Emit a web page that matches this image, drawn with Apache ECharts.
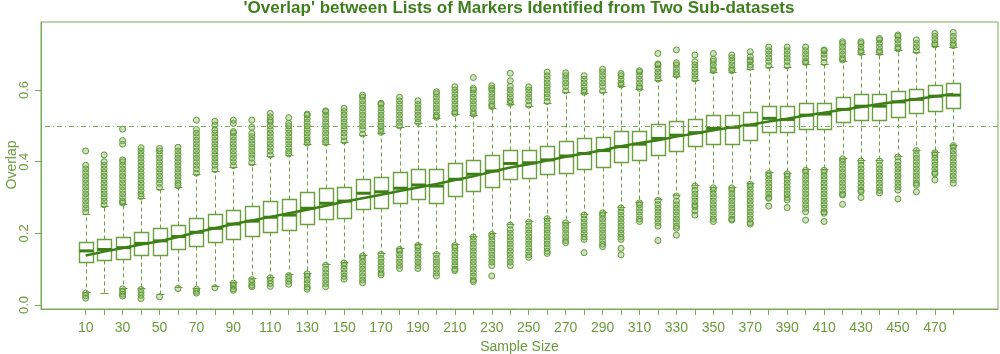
<!DOCTYPE html>
<html>
<head>
<meta charset="utf-8">
<script src="https://cdn.jsdelivr.net/npm/echarts@6/dist/echarts.min.js"></script>
<style>html,body{margin:0;padding:0;background:#fff}#c{width:1000px;height:354px}</style>
</head>
<body>
<div id="c"></div>
<script>
const sampleSizes = [10,20,30,40,50,60,70,80,90,100,110,120,130,140,150,160,170,180,190,200,210,220,230,240,250,260,270,280,290,300,310,320,330,340,350,360,370,380,390,400,410,420,430,440,450,460,470,480];
const xTickLabels = [10,30,50,70,90,110,130,150,170,190,210,230,250,270,290,310,330,350,370,390,410,430,450,470];
const yTickLabels = [0.0,0.2,0.4,0.6];

const q1  = [.120,.126,.129,.140,.140,.155,.165,.175,.184,.193,.205,.209,.225,.239,.244,.267,.270,.286,.295,.286,.305,.319,.330,.351,.355,.365,.369,.380,.384,.400,.405,.419,.430,.444,.449,.449,.460,.482,.482,.491,.491,.512,.516,.516,.526,.535,.542,.551];
const med = [.151,.155,.160,.172,.179,.191,.203,.214,.226,.234,.245,.251,.270,.284,.290,.312,.316,.326,.335,.332,.351,.365,.374,.395,.397,.405,.416,.423,.431,.442,.449,.465,.474,.481,.493,.496,.502,.521,.518,.530,.533,.546,.555,.555,.567,.574,.583,.586];
const q3  = [.175,.185,.189,.205,.214,.224,.244,.254,.265,.276,.291,.296,.316,.326,.330,.351,.356,.370,.380,.380,.395,.405,.419,.434,.434,.444,.459,.465,.470,.486,.486,.505,.514,.519,.529,.529,.539,.555,.555,.565,.565,.580,.589,.589,.598,.603,.614,.620];
const whiskerLow  = [.037,.034,.048,.047,.030,.051,.048,.053,.065,.074,.079,.086,.090,.114,.120,.140,.144,.158,.169,.144,.169,.193,.200,.226,.234,.244,.232,.254,.260,.274,.288,.295,.307,.335,.330,.330,.340,.370,.369,.379,.379,.411,.405,.405,.416,.434,.428,.448];
const whiskerHigh = [.254,.276,.281,.300,.325,.330,.365,.375,.386,.394,.416,.419,.449,.449,.455,.474,.479,.498,.507,.521,.532,.530,.551,.561,.555,.565,.595,.591,.595,.611,.602,.628,.639,.628,.651,.651,.660,.665,.665,.674,.674,.681,.702,.702,.712,.707,.723,.721];
const meanOverlap = [.138,.149,.159,.169,.178,.190,.203,.214,.226,.236,.246,.256,.266,.277,.288,.298,.308,.318,.328,.338,.349,.359,.372,.384,.393,.403,.414,.423,.432,.443,.452,.460,.470,.479,.488,.496,.503,.512,.520,.529,.537,.545,.553,.561,.568,.575,.582,.589];

const highOutliers = [
 [.26,.27,.28,.29,.30,.31,.32,.33,.34,.35,.36,.37,.38,.39,.43],
 [.28,.29,.30,.31,.32,.33,.34,.35,.36,.37,.38,.39,.40,.419],
 [.285,.29,.30,.31,.32,.33,.34,.35,.36,.37,.38,.39,.40,.405,.449,.459,.491],
 [.303,.31,.32,.33,.34,.35,.36,.37,.38,.39,.40,.41,.42,.43,.439],
 [.328,.34,.35,.36,.37,.38,.39,.40,.41,.42,.43,.437],
 [.333,.34,.35,.36,.37,.38,.39,.40,.41,.42,.43,.44],
 [.368,.38,.39,.40,.41,.42,.43,.44,.45,.46,.47,.48,.49,.516],
 [.378,.39,.40,.41,.42,.43,.44,.45,.46,.47,.48,.488,.502,.513],
 [.389,.40,.41,.42,.43,.44,.45,.46,.47,.48,.484,.507,.516],
 [.397,.41,.42,.43,.44,.45,.46,.47,.479,.496,.516],
 [.419,.43,.44,.45,.46,.47,.48,.49,.50,.51,.516,.525,.535],
 [.422,.43,.44,.45,.46,.47,.48,.49,.50,.507,.523],
 [.452,.46,.47,.48,.49,.50,.51,.52,.53,.533],
 [.453,.46,.47,.48,.49,.50,.51,.52,.53,.54,.542],
 [.458,.47,.48,.49,.50,.51,.52,.53,.54,.549],
 [.477,.49,.50,.51,.52,.53,.54,.55,.56,.57,.58,.586],
 [.482,.49,.50,.51,.52,.53,.54,.55,.56,.563],
 [.50,.51,.52,.53,.54,.55,.56,.57,.58],
 [.51,.52,.53,.54,.55,.56,.57],
 [.524,.53,.54,.55,.56,.57,.58,.59,.595],
 [.535,.54,.55,.56,.57,.58,.59,.60,.609],
 [.533,.54,.55,.56,.57,.58,.59,.60,.605,.635],
 [.554,.56,.57,.58,.59,.60,.605,.612],
 [.563,.57,.58,.59,.60,.61,.626,.647],
 [.558,.57,.58,.59,.60,.609],
 [.568,.58,.59,.60,.61,.62,.63,.64,.65],
 [.598,.61,.62,.63,.64,.648],
 [.594,.60,.61,.62,.63,.64],
 [.598,.61,.62,.63,.64,.65,.658],
 [.614,.62,.63,.64,.646],
 [.605,.61,.62,.63,.64,.65,.654],
 [.631,.64,.65,.66,.67,.673,.702],
 [.642,.65,.66,.67,.676,.712],
 [.631,.64,.65,.66,.67,.679,.698],
 [.654,.66,.67,.68,.686,.702],
 [.654,.66,.67,.68,.69,.698],
 [.664,.67,.68,.684,.693,.707],
 [.668,.68,.69,.70,.71,.72],
 [.668,.68,.69,.70,.71,.72],
 [.677,.68,.69,.70,.71,.72],
 [.677,.69,.70,.71,.712],
 [.684,.69,.70,.71,.72,.73,.735],
 [.705,.71,.72,.73,.735],
 [.705,.71,.72,.73,.74,.744],
 [.715,.72,.73,.74,.75,.754],
 [.71,.72,.73,.74],
 [.726,.73,.74,.75,.758],
 [.724,.73,.74,.75,.761]
];
const lowOutliers = [
 [.033,.026,.019],
 [],
 [.045,.037,.03,.025],
 [.043,.035,.027,.018],
 [.023],
 [.046],
 [.044,.038,.033],
 [.048],
 [.061,.053,.045,.041],
 [.071,.063,.055,.051],
 [.076,.068,.06,.052],
 [.082,.074,.066,.058],
 [.087,.08,.07,.06,.05,.044],
 [.111,.10,.09,.08,.07,.06,.051],
 [.117,.11,.10,.09,.08,.072],
 [.137,.13,.12,.11,.10,.09,.08,.07,.062],
 [.141,.13,.12,.11,.10,.09,.084],
 [.155,.15,.14,.13,.12,.11,.102],
 [.166,.16,.15,.14,.13,.12,.11,.102],
 [.141,.13,.12,.11,.10,.09,.081],
 [.166,.16,.15,.14,.13,.12,.11,.10,.096],
 [.19,.18,.17,.16,.15,.14,.13,.12,.11,.10,.09,.08,.07,.065],
 [.197,.19,.18,.17,.16,.15,.14,.13,.12,.11,.081],
 [.223,.21,.20,.19,.18,.17,.16,.15,.14,.13,.12,.11],
 [.231,.22,.21,.20,.19,.18,.17,.16,.15,.14,.133],
 [.241,.23,.22,.21,.20,.19,.18,.17,.16,.15,.144],
 [.229,.22,.21,.20,.19,.18,.174],
 [.251,.24,.23,.22,.21,.20,.19,.183,.146],
 [.257,.25,.24,.23,.22,.21,.20,.19,.18,.17,.163],
 [.271,.26,.25,.24,.23,.22,.21,.20,.19,.183,.158,.14],
 [.285,.28,.27,.26,.25,.24,.233],
 [.292,.28,.27,.26,.25,.24,.23,.22,.18],
 [.304,.29,.28,.27,.26,.25,.24,.23,.22,.214,.195],
 [.332,.32,.31,.30,.29,.28,.274,.263,.251],
 [.327,.32,.31,.30,.29,.28,.27,.26,.25,.24,.233],
 [.327,.32,.31,.30,.29,.28,.27,.26,.25,.24,.237],
 [.337,.33,.32,.31,.30,.29,.28,.27,.26,.25,.24,.23,.226],
 [.367,.36,.35,.34,.33,.32,.31,.30,.298,.276],
 [.366,.36,.35,.34,.33,.32,.31,.30,.293,.272],
 [.376,.37,.36,.35,.34,.33,.32,.31,.30,.29,.28,.27,.26,.237],
 [.376,.37,.36,.35,.34,.33,.32,.31,.30,.29,.28,.27,.26,.256,.233],
 [.408,.40,.39,.38,.37,.36,.35,.34,.33,.32,.31,.307,.281],
 [.402,.39,.38,.37,.36,.35,.34,.33,.32,.316,.30],
 [.402,.39,.38,.37,.36,.35,.34,.33,.32,.313],
 [.413,.40,.39,.38,.37,.36,.35,.34,.33,.321,.296],
 [.431,.42,.41,.40,.39,.38,.37,.36,.35,.34,.335,.316],
 [.425,.42,.41,.40,.39,.38,.37,.366,.349],
 [.445,.44,.43,.42,.41,.40,.39,.38,.37,.36,.35,.34]
];

const BOX = '#6ba03f';
const DARK = '#3d7f16';
const AXIS = '#79aa55';
const TEXT = '#6a9b3c';
const FONT = '"Liberation Sans", Arial, sans-serif';

const boxData = sampleSizes.map((s, i) => [s, whiskerLow[i], q1[i], med[i], q3[i], whiskerHigh[i]]);
const outlierData = [];
sampleSizes.forEach((s, i) => {
  highOutliers[i].forEach(v => outlierData.push([s, v]));
  lowOutliers[i].forEach(v => outlierData.push([s, v]));
});
const meanData = sampleSizes.map((s, i) => [s, meanOverlap[i]]);

function renderBox(params, api) {
  const x = api.value(0);
  const cx = Math.round(api.coord([x, 0])[0]) + 0.5;
  const unit = api.size([10, 0])[0];
  const hw = Math.round(unit * 0.4);
  const sw = Math.round(unit * 0.2);
  const py = v => Math.round(api.coord([x, v])[1]) + 0.5;
  const yLo = py(api.value(1)), yQ1 = py(api.value(2)), yQ3 = py(api.value(4)), yHi = py(api.value(5));
  const yMed = api.coord([x, api.value(3)])[1];
  const dash = { stroke: BOX, lineWidth: 1, lineDash: [4, 3], fill: null };
  const solid = { stroke: BOX, lineWidth: 1, fill: null };
  return {
    type: 'group',
    children: [
      { type: 'line', shape: { x1: cx, y1: yQ3, x2: cx, y2: yHi }, style: dash },
      { type: 'line', shape: { x1: cx, y1: yQ1, x2: cx, y2: yLo }, style: dash },
      { type: 'line', shape: { x1: cx - sw, y1: yHi, x2: cx + sw, y2: yHi }, style: solid },
      { type: 'line', shape: { x1: cx - sw, y1: yLo, x2: cx + sw, y2: yLo }, style: solid },
      { type: 'rect', shape: { x: cx - hw, y: yQ3, width: 2 * hw, height: yQ1 - yQ3 }, style: { stroke: BOX, lineWidth: 1.4, fill: 'rgba(255,255,255,0)' } },
      { type: 'line', shape: { x1: cx - hw, y1: yMed, x2: cx + hw, y2: yMed }, style: { stroke: DARK, lineWidth: 3 } }
    ]
  };
}

const chart = echarts.init(document.getElementById('c'), null, { renderer: 'canvas' });
chart.setOption({
  animation: false,
  backgroundColor: '#ffffff',
  graphic: [{
    type: 'text', x: 519, y: 0, z: 10,
    style: { text: "'Overlap' between Lists of Markers Identified from Two Sub-datasets", font: 'bold 17px ' + FONT, fill: '#3e7e1c', textAlign: 'center', textVerticalAlign: 'top' }
  }, {
    type: 'text', x: 12, y: 165, rotation: Math.PI / 2, z: 10,
    style: { text: 'Overlap', font: '14px ' + FONT, fill: TEXT, textAlign: 'center', textVerticalAlign: 'middle' }
  }],
  grid: { left: 41, right: 2, top: 22, bottom: 45, show: true, borderColor: AXIS, borderWidth: 1, backgroundColor: 'transparent', containLabel: false, outerBoundsMode: 'none' },
  xAxis: {
    type: 'value', min: -14.2, max: 504.2,
    name: 'Sample Size', nameLocation: 'middle', nameGap: 31,
    nameTextStyle: { color: TEXT, fontSize: 14, fontFamily: FONT },
    axisLine: { show: true, onZero: false, lineStyle: { color: AXIS, width: 1 } },
    axisTick: { show: true, length: 6, customValues: sampleSizes, lineStyle: { color: AXIS } },
    axisLabel: { customValues: xTickLabels, color: TEXT, fontSize: 14, fontFamily: FONT, margin: 12 },
    splitLine: { show: false }
  },
  yAxis: {
    type: 'value', min: -0.0112, max: 0.790,
    axisLine: { show: true, onZero: false, lineStyle: { color: AXIS, width: 1 } },
    axisTick: { show: true, length: 6, customValues: yTickLabels, lineStyle: { color: AXIS } },
    axisLabel: { customValues: yTickLabels, rotate: 90, color: TEXT, fontSize: 13, fontFamily: FONT, margin: 10, formatter: v => v.toFixed(1) },
    splitLine: { show: false }
  },
  series: [
    {
      type: 'custom', renderItem: renderBox, data: boxData, z: 2,
      encode: { x: 0, y: [1, 2, 3, 4, 5] }, clip: true
    },
    {
      type: 'scatter', data: outlierData, symbol: 'circle', symbolSize: 6, z: 3,
      itemStyle: { color: 'rgba(120,170,80,0.35)', borderColor: '#5f9a36', borderWidth: 1, opacity: 1 },
      emphasis: { disabled: true }
    },
    {
      type: 'line', data: meanData, symbol: 'none', z: 4,
      lineStyle: { color: DARK, width: 2.5 },
      markLine: {
        silent: true, symbol: 'none', label: { show: false },
        lineStyle: { color: AXIS, width: 1, type: [1, 3, 5, 3] },
        data: [{ yAxis: 0.5 }]
      }
    }
  ]
});
</script>
</body>
</html>
